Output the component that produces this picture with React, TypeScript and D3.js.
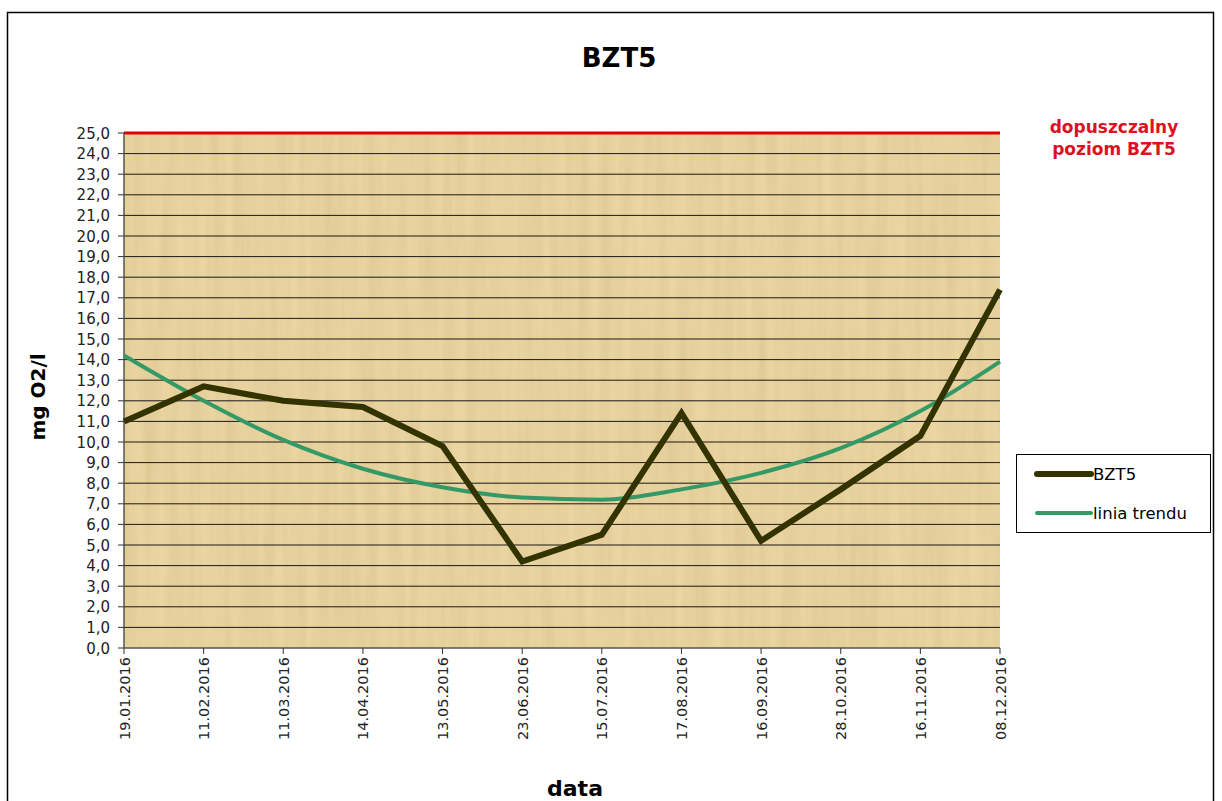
import React from "react";
import * as d3 from "d3";

const dates = [
  "19.01.2016", "11.02.2016", "11.03.2016", "14.04.2016", "13.05.2016", "23.06.2016",
  "15.07.2016", "17.08.2016", "16.09.2016", "28.10.2016", "16.11.2016", "08.12.2016",
];
const bzt5 = [11.0, 12.7, 12.0, 11.7, 9.8, 4.2, 5.5, 11.4, 5.2, 7.7, 10.3, 17.4];
const trend = [14.2, 12.0, 10.1, 8.7, 7.8, 7.3, 7.2, 7.7, 8.5, 9.7, 11.5, 13.9];
const limit = 25.0;
const yTicks = d3.range(0, 26, 1);

const W = 1222;
const H = 801;
const M = { left: 124, right: 1000, top: 133, bottom: 648 };

export default function App() {
  const x = d3.scalePoint<string>().domain(dates).range([M.left, M.right]);
  const y = d3.scaleLinear().domain([0, 25]).range([M.bottom, M.top]);
  const line = d3
    .line<number>()
    .x((_, i) => x(dates[i]) as number)
    .y((d) => y(d));
  const trendLine = d3
    .line<number>()
    .x((_, i) => x(dates[i]) as number)
    .y((d) => y(d))
    .curve(d3.curveMonotoneX);
  const font = "'DejaVu Sans', 'Liberation Sans', Arial, sans-serif";

  return (
    <svg
      width={W}
      height={H}
      style={{ position: "absolute", left: 0, top: 0, display: "block" }}
      fontFamily={font}
    >
      <defs>
        <filter id="papyrus" x="0" y="0" width="100%" height="100%">
          <feTurbulence type="fractalNoise" baseFrequency="0.09 0.006" numOctaves="3" seed="4" result="n" />
          <feColorMatrix
            in="n"
            type="matrix"
            values="0 0 0 0 0.6  0 0 0 0 0.45  0 0 0 0 0.2  0 0 0 0.55 -0.12"
            result="c"
          />
          <feComposite in="c" in2="SourceGraphic" operator="in" result="t" />
          <feMerge>
            <feMergeNode in="SourceGraphic" />
            <feMergeNode in="t" />
          </feMerge>
        </filter>
      </defs>
      <rect x={0} y={0} width={W} height={H} fill="#ffffff" />
      <rect x={7.5} y={12.5} width={1206} height={800} fill="#ffffff" stroke="#000" strokeWidth={1.5} />

      <text x={619} y={67} textAnchor="middle" fontSize={26} fontWeight="bold" fill="#000">
        BZT5
      </text>

      {/* plot background */}
      <rect
        x={M.left}
        y={M.top}
        width={M.right - M.left}
        height={M.bottom - M.top}
        fill="#ebd6a2"
        filter="url(#papyrus)"
      />

      {/* gridlines */}
      {yTicks.slice(1, -1).map((t) => (
        <line key={t} x1={M.left} x2={M.right} y1={y(t)} y2={y(t)} stroke="#1a1a1a" strokeWidth={1} />
      ))}

      {/* limit line */}
      <line x1={M.left} x2={M.right} y1={y(limit)} y2={y(limit)} stroke="#e00000" strokeWidth={3} />

      {/* y axis */}
      <line x1={M.left} x2={M.left} y1={M.top} y2={M.bottom} stroke="#555" strokeWidth={1.5} />
      {yTicks.map((t) => (
        <g key={t}>
          <line x1={M.left - 6} x2={M.left} y1={y(t)} y2={y(t)} stroke="#333" strokeWidth={1} />
          <text x={110} y={y(t) + 5.5} textAnchor="end" fontSize={15} fill="#222">
            {t.toFixed(1).replace(".", ",")}
          </text>
        </g>
      ))}

      {/* x axis */}
      <line x1={M.left} x2={M.right} y1={M.bottom} y2={M.bottom} stroke="#555" strokeWidth={1.5} />
      {dates.map((d) => (
        <g key={d}>
          <line x1={x(d)} x2={x(d)} y1={M.bottom} y2={M.bottom + 6} stroke="#333" strokeWidth={1} />
          <text
            transform={`translate(${(x(d) as number) + 5.5},${M.bottom + 9}) rotate(-90)`}
            textAnchor="end"
            fontSize={14.5}
            fill="#222"
          >
            {d}
          </text>
        </g>
      ))}

      {/* series */}
      <path d={trendLine(trend) || ""} fill="none" stroke="#339966" strokeWidth={4} />
      <path d={line(bzt5) || ""} fill="none" stroke="#333300" strokeWidth={6} strokeLinejoin="miter" />

      {/* axis titles */}
      <text
        transform={`translate(45,397) rotate(-90)`}
        textAnchor="middle"
        fontSize={20}
        fontWeight="bold"
        fill="#000"
      >
        mg O2/l
      </text>
      <text x={575} y={796} textAnchor="middle" fontSize={22} fontWeight="bold" fill="#000">
        data
      </text>

      {/* limit label */}
      <text x={1114} y={133} textAnchor="middle" fontSize={17} fontWeight="bold" fill="#dd1122">
        dopuszczalny
      </text>
      <text x={1114} y={155} textAnchor="middle" fontSize={17} fontWeight="bold" fill="#dd1122">
        poziom BZT5
      </text>

      {/* legend */}
      <rect x={1016.5} y={454.5} width={194} height={78} fill="#fff" stroke="#000" strokeWidth={1} />
      <line x1={1037} x2={1091} y1={474} y2={474} stroke="#333300" strokeWidth={6} strokeLinecap="round" />
      <text x={1093} y={480} fontSize={16.5} fill="#000">
        BZT5
      </text>
      <line x1={1037} x2={1091} y1={513} y2={513} stroke="#339966" strokeWidth={4} strokeLinecap="round" />
      <text x={1093} y={519} fontSize={16.5} fill="#000">
        linia trendu
      </text>
    </svg>
  );
}
